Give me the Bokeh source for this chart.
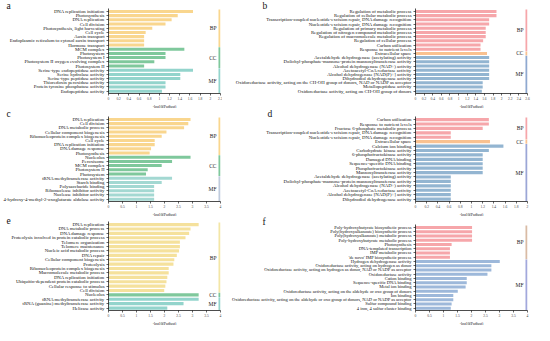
from bokeh.plotting import figure
from bokeh.layouts import row, column
from bokeh.models import Range1d, FixedTicker, ColumnDataSource, Title
from bokeh.core.properties import value
from bokeh.embed import file_html
from bokeh.resources import INLINE

FONT = "Liberation Serif"
XTITLE = "-log10(Padjust)"

# ---------------- panel a ----------------
a_bp_terms = ["DNA replication initiation", "Photosynthesis", "DNA replication", "Cell division",
              "Photosynthesis, light harvesting", "Cell cycle", "Auxin transport",
              "Endoplasmic reticulum to cytosol auxin transport", "Hormone transport"]
a_bp_vals = [1.66, 1.36, 1.24, 1.12, 0.86, 0.73, 0.70, 0.70, 0.70]
a_cc_terms = ["MCM complex", "Photosystem", "Photosystem I", "Photosystem II oxygen evolving complex", "Photosystem II"]
a_cc_vals = [1.49, 1.12, 1.12, 0.90, 0.70]
a_mf_terms = ["Serine-type endopeptidase activity", "Serine hydrolase activity", "Serine-type peptidase activity",
              "Thioredoxin peroxidase activity", "Protein tyrosine phosphatase activity", "Endopeptidase activity"]
a_mf_vals = [1.66, 1.41, 1.41, 1.12, 1.12, 1.05]
a_ticks = [0, 0.2, 0.4, 0.6, 0.8, 1.0, 1.2, 1.4, 1.6, 1.8, 2.0, 2.2]
a_tick_labels = ["0", "0.2", "0.4", "0.6", "0.8", "1", "1.2", "1.4", "1.6", "1.8", "2", "2.2"]

# ---------------- panel b ----------------
b_bp_terms = ["Regulation of metabolic process", "Regulation of cellular metabolic process",
              "Transcription-coupled nucleotide-excision repair, DNA damage recognition",
              "Nucleotide-excision repair, DNA damage recognition", "Regulation of primary metabolic process",
              "Regulation of nitrogen compound metabolic process", "Regulation of macromolecule metabolic process",
              "Regulation of cellular process", "Carbon utilization", "Response to nutrient levels"]
b_bp_vals = [1.88, 1.88, 1.71, 1.71, 1.63, 1.63, 1.63, 1.57, 1.51, 1.51]
b_cc_terms = ["Extracellular space"]
b_cc_vals = [1.66]
b_mf_terms = ["Acetaldehyde dehydrogenase (acetylating) activity",
              "Dolichyl-phosphate-mannose-protein mannosyltransferase activity",
              "Alcohol dehydrogenase (NAD+) activity", "Acetoacetyl-CoA reductase activity",
              "Alcohol dehydrogenase [NAD(P)+] activity", "Dihydrodiol dehydrogenase activity",
              "Oxidoreductase activity, acting on the CH-OH group of donors, NAD or NADP as acceptor",
              "Metallopeptidase activity", "Oxidoreductase activity, acting on CH-OH group of donors"]
b_mf_vals = [1.71, 1.71, 1.71, 1.71, 1.71, 1.71, 1.56, 1.56, 1.54]
b_ticks = [0, 0.2, 0.4, 0.6, 0.8, 1.0, 1.2, 1.4, 1.6, 1.8, 2.0, 2.2, 2.4, 2.6]
b_tick_labels = ["0", "0.2", "0.4", "0.6", "0.8", "1", "1.2", "1.4", "1.6", "1.8", "2", "2.2", "2.4", "2.6"]

# ---------------- panel c ----------------
c_bp_terms = ["DNA replication", "Cell division", "DNA metabolic process", "Cellular component biogenesis",
              "Ribonucleoprotein complex biogenesis", "Cell cycle", "DNA replication initiation",
              "DNA damage response", "Photosynthesis"]
c_bp_vals = [2.93, 2.85, 2.70, 2.07, 1.90, 1.65, 1.65, 1.52, 1.47]
c_cc_terms = ["Nucleolus", "Peroxisome", "MCM complex", "Photosystem II", "Photosystem"]
c_cc_vals = [2.93, 2.27, 1.90, 1.40, 1.34]
c_mf_terms = ["tRNA methyltransferase activity", "Starch binding", "Polysaccharide binding",
              "Ribonuclease inhibitor activity", "Nuclease inhibitor activity",
              "4-hydroxy-4-methyl-2-oxoglutarate aldolase activity"]
c_mf_vals = [2.27, 1.90, 1.63, 1.63, 1.63, 1.63]
c_ticks = [0, 0.5, 1.0, 1.5, 2.0, 2.5, 3.0, 3.5, 4.0]
c_tick_labels = ["0", "0.5", "1", "1.5", "2", "2.5", "3", "3.5", "4"]

# ---------------- panel d ----------------
d_bp_terms = ["Carbon utilization", "Response to nutrient levels", "Fructose 6-phosphate metabolic process",
              "Transcription-coupled nucleotide-excision repair, DNA damage recognition",
              "Nucleotide-excision repair, DNA damage recognition"]
d_bp_vals = [1.31, 1.31, 1.20, 0.63, 0.63]
d_cc_terms = ["Extracellular space"]
d_cc_vals = [1.33]
d_mf_terms = ["Calcium ion binding", "Carbohydrate kinase activity", "6-phosphofructokinase activity",
              "Damaged DNA binding", "Sequence-specific DNA binding", "Phosphofructokinase activity",
              "Mannosyltransferase activity", "Acetaldehyde dehydrogenase (acetylating) activity",
              "Dolichyl-phosphate-mannose-protein mannosyltransferase activity",
              "Alcohol dehydrogenase (NAD+) activity", "Acetoacetyl-CoA reductase activity",
              "Alcohol dehydrogenase [NAD(P)+] activity", "Dihydrodiol dehydrogenase activity"]
d_mf_vals = [1.57, 1.31, 1.20, 1.20, 1.20, 1.20, 1.20, 0.63, 0.63, 0.63, 0.63, 0.63, 0.63]
d_ticks = [0, 0.2, 0.4, 0.6, 0.8, 1.0, 1.2, 1.4, 1.6, 1.8, 2.0]
d_tick_labels = ["0", "0.2", "0.4", "0.6", "0.8", "1", "1.2", "1.4", "1.6", "1.8", "2"]

# ---------------- panel e ----------------
e_bp_terms = ["DNA replication", "DNA metabolic process", "DNA damage response",
              "Proteolysis involved in protein catabolic process", "Telomere organization",
              "Telomere maintenance", "Nucleic acid metabolic process", "DNA repair",
              "Cellular component biogenesis", "Proteolysis", "Ribonucleoprotein complex biogenesis",
              "Macromolecule metabolic process", "DNA replication initiation",
              "Ubiquitin-dependent protein catabolic process", "Cellular response to stimulus", "Cell division"]
e_bp_vals = [3.22, 2.93, 2.88, 2.75, 2.55, 2.55, 2.52, 2.44, 2.35, 2.32, 2.15, 2.15, 2.10, 2.07, 2.03, 1.99]
e_cc_terms = ["Nucleolus"]
e_cc_vals = [3.22]
e_mf_terms = ["tRNA methyltransferase activity", "tRNA (guanine) methyltransferase activity", "Helicase activity"]
e_mf_vals = [3.22, 2.68, 2.10]
e_ticks = [0, 0.5, 1.0, 1.5, 2.0, 2.5, 3.0, 3.5, 4.0]
e_tick_labels = ["0", "0.5", "1", "1.5", "2", "2.5", "3", "3.5", "4"]

# ---------------- panel f ----------------
f_bp_terms = ["Poly-hydroxybutyrate biosynthetic process", "Poly(hydroxyalkanoate) biosynthetic process",
              "Poly(hydroxyalkanoate) metabolic process", "Poly-hydroxybutyrate metabolic process",
              "Photosynthesis", "DNA-templated transcription", "IMP metabolic process",
              "'de novo' IMP biosynthetic process"]
f_bp_vals = [2.02, 2.02, 2.02, 2.02, 1.29, 1.23, 1.23, 1.23]
f_mf_terms = ["Hydrogen dehydrogenase activity", "Oxidoreductase activity, acting on hydrogen as donor",
              "Oxidoreductase activity, acting on hydrogen as donor, NAD or NADP as acceptor",
              "Oxidoreductase activity", "Cation binding", "Sequence-specific DNA binding", "Metal ion binding",
              "Oxidoreductase activity, acting on the aldehyde or oxo group of donors", "Ion binding",
              "Oxidoreductase activity, acting on the aldehyde or oxo group of donors, NAD or NADP as acceptor",
              "Sulfur compound binding", "4 iron, 4 sulfur cluster binding"]
f_mf_vals = [3.01, 2.71, 2.71, 2.57, 1.83, 1.83, 1.79, 1.51, 1.35, 1.35, 1.29, 1.26]
f_ticks = [0, 0.5, 1.0, 1.5, 2.0, 2.5, 3.0, 3.5, 4.0]
f_tick_labels = ["0", "0.5", "1", "1.5", "2", "2.5", "3", "3.5", "4"]


def make_panel(letter, groups, ticks, tick_labels, width, height, bl, br, letter_x, lab_fs="4.8px"):
    # groups: list of (name, terms, vals, bar_color, strip_color)
    n = sum(len(g[1]) for g in groups)
    xmax = ticks[-1]
    p = figure(width=width, height=height, output_backend="svg", toolbar_location=None,
               x_range=Range1d(0, xmax), y_range=Range1d(-0.55, n - 0.3),
               min_border_left=bl, min_border_right=br, min_border_top=0, min_border_bottom=0)
    p.outline_line_color = None
    p.xgrid.visible = False
    p.ygrid.visible = False

    p.title.text = letter
    p.title.align = "left"
    p.title.offset = -(bl - letter_x)
    p.title.text_font = FONT
    p.title.text_font_size = "9.5px"
    p.title.text_font_style = "normal"
    p.title.text_color = "#111111"
    p.title.standoff = -4

    ys, vals, cols, labels = [], [], [], {}
    k = 0
    for name, terms, gv, bc, sc in groups:
        gy = []
        for t, v in zip(terms, gv):
            y = n - 1 - k
            ys.append(y); vals.append(v); cols.append(bc); labels[y] = t
            gy.append(y)
            k += 1
        p.quad(left=xmax * 0.982, right=xmax, top=max(gy) + 0.47, bottom=min(gy) - 0.47,
               fill_color=sc, line_color=None)
        p.text(x=[xmax], y=[(max(gy) + min(gy)) / 2], text=[name], x_offset=-4,
               text_align="right", text_baseline="middle", text_font=value(FONT),
               text_font_size="5.5px", text_color="#222222")
    src = ColumnDataSource(dict(y=ys, v=vals, c=cols))
    p.hbar(y="y", right="v", left=0, height=0.72, fill_color="c", line_color=None, source=src)

    p.yaxis.ticker = FixedTicker(ticks=ys, minor_ticks=[])
    p.yaxis.major_label_overrides = labels
    p.yaxis.major_label_text_font = FONT
    p.yaxis.major_label_text_font_size = lab_fs
    p.yaxis.major_label_text_color = "#111111"
    p.yaxis.major_label_standoff = 2
    p.yaxis.major_tick_in = 0
    p.yaxis.major_tick_out = 2
    p.yaxis.major_tick_line_width = 0.6
    p.yaxis.axis_line_width = 0.7
    p.yaxis.minor_tick_line_color = None

    p.xaxis.ticker = FixedTicker(ticks=ticks, minor_ticks=[])
    p.xaxis.major_label_overrides = dict(zip(ticks, tick_labels))
    p.xaxis.major_label_text_font = FONT
    p.xaxis.major_label_text_font_size = "3.6px"
    p.xaxis.major_label_standoff = 1
    p.xaxis.major_tick_in = 0
    p.xaxis.major_tick_out = 2
    p.xaxis.major_tick_line_width = 0.6
    p.xaxis.axis_line_width = 0.7
    p.xaxis.minor_tick_line_color = None

    # x-axis title as a small title below the axis
    p.add_layout(Title(text=XTITLE, align="center", text_font=FONT, text_font_size="3.8px",
                       text_font_style="normal", text_color="#111111", standoff=0), "below")
    return p


Y1, G1, T1 = "#F9D68E", "#7FC89C", "#93D4CC"
PK, OR, BL = "#F6A6AA", "#F9C190", "#93B5D1"

LW, RW = 222, 312
LBL, LBR = 104, 2
RBL, RBR = 193, 7

pa = make_panel("a", [("BP", a_bp_terms, a_bp_vals, Y1, Y1), ("CC", a_cc_terms, a_cc_vals, G1, G1),
                      ("MF", a_mf_terms, a_mf_vals, T1, T1)], a_ticks, a_tick_labels, LW, 108, LBL, LBR, 2)
pc = make_panel("c", [("BP", c_bp_terms, c_bp_vals, Y1, Y1), ("CC", c_cc_terms, c_cc_vals, G1, G1),
                      ("MF", c_mf_terms, c_mf_vals, "#A3D8D2", "#BFCBDD")], c_ticks, c_tick_labels, LW, 108, LBL, LBR, 2)
pe = make_panel("e", [("BP", e_bp_terms, e_bp_vals, "#F5E19C", "#F3E6A6"), ("CC", e_cc_terms, e_cc_vals, G1, G1),
                      ("MF", e_mf_terms, e_mf_vals, T1, T1)], e_ticks, e_tick_labels, LW, 109, LBL, LBR, 2)
pb = make_panel("b", [("BP", b_bp_terms, b_bp_vals, PK, PK), ("CC", b_cc_terms, b_cc_vals, OR, OR),
                      ("MF", b_mf_terms, b_mf_vals, BL, "#8FA9D0")], b_ticks, b_tick_labels, RW, 108, RBL, RBR, 40)
pd_ = make_panel("d", [("BP", d_bp_terms, d_bp_vals, PK, PK), ("CC", d_cc_terms, d_cc_vals, OR, OR),
                       ("MF", d_mf_terms, d_mf_vals, BL, "#9BA6D6")], d_ticks, d_tick_labels, RW, 108, 188, RBR, 40)
pf = make_panel("f", [("BP", f_bp_terms, f_bp_vals, PK, "#D9BBA5"),
                      ("MF", f_mf_terms, f_mf_vals, "#9DB8DA", "#A2A8DC")], f_ticks, f_tick_labels, RW, 109, RBL, RBR, 40,
                lab_fs="4.5px")

layout = row(column(pa, pc, pe), column(pb, pd_, pf))

with open("out.html", "w") as fh:
    fh.write(file_html(layout, INLINE))
